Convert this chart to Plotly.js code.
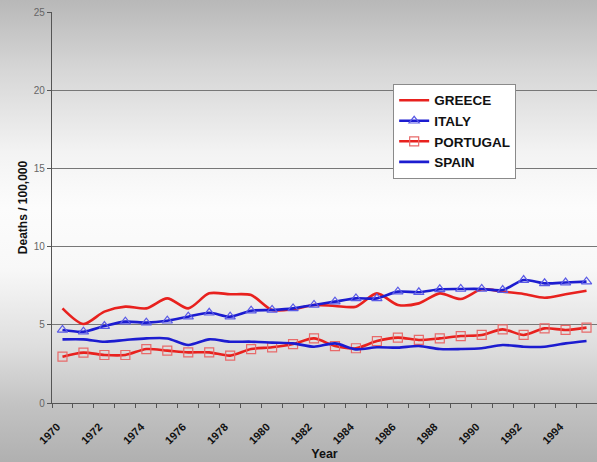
<!DOCTYPE html>
<html>
<head>
<meta charset="utf-8">
<script src="https://cdn.plot.ly/plotly-3.0.1.min.js"></script>
<style>
  html, body { margin: 0; padding: 0; }
  #chart {
    width: 597px; height: 462px;
    background: linear-gradient(to bottom, #b8b8b8 0%, #d6d6d6 15%, #f3f3f3 33%, #fcfcfc 45%, #f8f8f8 58%, #dedede 75%, #c2c2c2 88%, #b0b0b0 100%);
  }
</style>
</head>
<body>
<div id="chart"></div>
<script>
// Road deaths per 100,000, southern Europe, 1970-1995
const years = [1970, 1971, 1972, 1973, 1974, 1975, 1976, 1977, 1978, 1979, 1980, 1981, 1982,
               1983, 1984, 1985, 1986, 1987, 1988, 1989, 1990, 1991, 1992, 1993, 1994, 1995];
const greece   = [6.05, 5.05, 5.84, 6.16, 6.05, 6.69, 6.05, 7.01, 6.95, 6.9, 5.95, 5.99, 6.27,
                  6.2, 6.16, 7.01, 6.27, 6.37, 7.01, 6.65, 7.27, 7.12, 6.97, 6.73, 6.95, 7.18];
const italy    = [4.67, 4.56, 4.92, 5.2, 5.14, 5.26, 5.52, 5.77, 5.52, 5.9, 5.95, 6.05, 6.27,
                  6.48, 6.69, 6.69, 7.12, 7.08, 7.27, 7.29, 7.29, 7.22, 7.86, 7.65, 7.7, 7.76];
const portugal = [2.96, 3.22, 3.07, 3.07, 3.45, 3.35, 3.24, 3.24, 3.03, 3.45, 3.56, 3.77, 4.13,
                  3.64, 3.5, 3.96, 4.18, 4.03, 4.13, 4.28, 4.35, 4.71, 4.35, 4.77, 4.67, 4.82];
const spain    = [4.07, 4.07, 3.92, 4.03, 4.13, 4.13, 3.71, 4.07, 3.92, 3.92, 3.86, 3.81, 3.6,
                  3.81, 3.43, 3.56, 3.54, 3.64, 3.45, 3.45, 3.5, 3.71, 3.6, 3.6, 3.81, 3.96];
const labelYears = [1970, 1972, 1974, 1976, 1978, 1980, 1982, 1984, 1986, 1988, 1990, 1992, 1994];

// tick marks sit on the boundaries between years
const boundaries = [];
for (let i = 0; i <= years.length; i++) boundaries.push(years[0] - 0.5 + i);
// slanted labels end a little left of their year
const labelPos = labelYears.map(y => y - 0.25);

const RED = '#e8211e', BLUE = '#1c1cd0';

const traces = [
  { name: 'GREECE', x: years, y: greece, mode: 'lines',
    line: { color: RED, width: 2.6, shape: 'spline', smoothing: 0.8 } },
  { name: 'ITALY', x: years, y: italy, mode: 'lines+markers',
    line: { color: BLUE, width: 2.6, shape: 'spline', smoothing: 0.8 },
    marker: { symbol: 'triangle-up-open', size: 9, color: '#5a5ae6', line: { width: 1.2 } } },
  { name: 'PORTUGAL', x: years, y: portugal, mode: 'lines+markers',
    line: { color: RED, width: 2.6, shape: 'spline', smoothing: 0.8 },
    marker: { symbol: 'square-open', size: 9, color: '#e86a6a', line: { width: 1.2 } } },
  { name: 'SPAIN', x: years, y: spain, mode: 'lines',
    line: { color: BLUE, width: 2.6, shape: 'spline', smoothing: 0.8 } }
];

const layout = {
  width: 597, height: 462,
  margin: { l: 52, r: 0, t: 12, b: 59 },
  paper_bgcolor: 'rgba(0,0,0,0)',
  plot_bgcolor: 'rgba(0,0,0,0)',
  font: { family: 'Liberation Sans, Arial, sans-serif', color: '#111' },
  showlegend: true,
  legend: {
    x: 0.626, y: 0.816, xanchor: 'left', yanchor: 'top',
    bgcolor: '#ffffff', bordercolor: '#8a8a8a', borderwidth: 1,
    font: { size: 13.5, color: '#111', weight: 'bold' },
    tracegroupgap: 0, itemwidth: 30
  },
  xaxis: {
    type: 'linear', range: [1969.5, 1995.5],
    tickmode: 'array', tickvals: labelPos, ticktext: labelYears.map(String),
    ticks: 'outside', ticklen: 12, tickcolor: 'rgba(0,0,0,0)', tickangle: -45,
    tickfont: { size: 11, color: '#111', weight: 'bold' },
    showgrid: false, zeroline: false,
    showline: true, linecolor: '#555', linewidth: 1.2,
    minor: { tickmode: 'array', tickvals: boundaries, ticks: 'outside', ticklen: 4, tickcolor: '#555', showgrid: false },
    title: { text: 'Year', font: { size: 12.5, color: '#111', weight: 'bold' }, standoff: 3 }
  },
  yaxis: {
    range: [0, 25], dtick: 5, tick0: 0,
    ticks: 'outside', ticklen: 4, tickcolor: '#555',
    tickfont: { size: 10, color: '#666' },
    showgrid: true, gridcolor: '#777', gridwidth: 1.3,
    zeroline: false, showline: true, linecolor: '#555', linewidth: 1.2,
    title: { text: 'Deaths / 100,000', font: { size: 12, color: '#111', weight: 'bold' }, standoff: 3 }
  }
};

Plotly.newPlot('chart', traces, layout, { displayModeBar: false, staticPlot: true });
</script>
</body>
</html>
